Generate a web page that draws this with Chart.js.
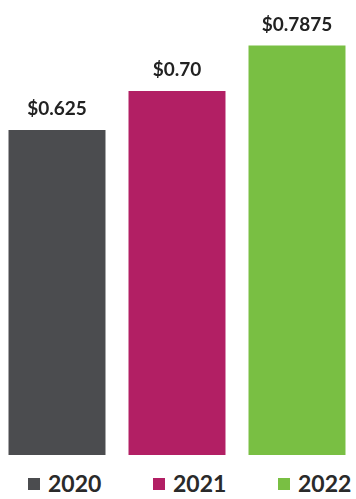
<!DOCTYPE html>
<html><head><meta charset="utf-8">
<script src="https://cdn.jsdelivr.net/npm/chart.js@4"></script>
<style>
html,body{margin:0;padding:0;background:#fff;overflow:hidden}
#w{width:360px;height:455px;margin-left:-3px;position:relative}
#lg{position:absolute;left:0;top:466px;width:356px;height:33px;display:flex;padding-left:28px;box-sizing:border-box;overflow:visible}
.it{width:125px;flex:0 0 125px;display:flex;align-items:center;font:bold 23px Lato,"Open Sans",sans-serif;color:#2a2a2a;white-space:nowrap}
.bx{width:12px;height:12px;margin-right:8px;margin-top:3px;flex:0 0 12px}
</style>
</head><body><div id="w"><canvas id="c"></canvas></div><div id="lg"></div>
<script>
const years = ['2020', '2021', '2022'];
const dividends = [0.625, 0.70, 0.7875];
const valueLabels = ['$0.625', '$0.70', '$0.7875'];
const barColors = ['#4b4c4f', '#b21f64', '#79bf43'];

const labelPlugin = {
  id: 'vl',
  afterDatasetsDraw(chart) {
    const ctx = chart.ctx;
    const meta = chart.getDatasetMeta(0);
    ctx.save();
    ctx.font = 'bold 19px Lato, "Open Sans", sans-serif';
    ctx.fillStyle = '#222';
    ctx.textAlign = 'center';
    ctx.textBaseline = 'middle';
    meta.data.forEach((bar, i) => {
      ctx.fillText(valueLabels[i], bar.x, bar.y - 21);
    });
    ctx.restore();
  }
};

const htmlLegend = {
  id: 'htmlLegend',
  afterUpdate(chart) {
    const box = document.getElementById('lg');
    box.innerHTML = '';
    chart.data.labels.forEach((lab, i) => {
      const it = document.createElement('div');
      it.className = 'it';
      const sw = document.createElement('span');
      sw.className = 'bx';
      sw.style.background = chart.data.datasets[0].backgroundColor[i];
      const tx = document.createElement('span');
      tx.textContent = lab;
      it.appendChild(sw); it.appendChild(tx);
      box.appendChild(it);
    });
  }
};

new Chart(document.getElementById('c'), {
  type: 'bar',
  data: {
    labels: years,
    datasets: [{ data: dividends, backgroundColor: barColors, barPercentage: 0.9, categoryPercentage: 0.898 }]
  },
  options: {
    responsive: true, maintainAspectRatio: false, animation: false,
    layout: { padding: 0 },
    scales: {
      x: { display: false },
      y: { display: false, min: 0, max: 0.875 }
    },
    plugins: {
      tooltip: { enabled: false },
      legend: { display: false }
    }
  },
  plugins: [labelPlugin, htmlLegend]
});
</script></body></html>
